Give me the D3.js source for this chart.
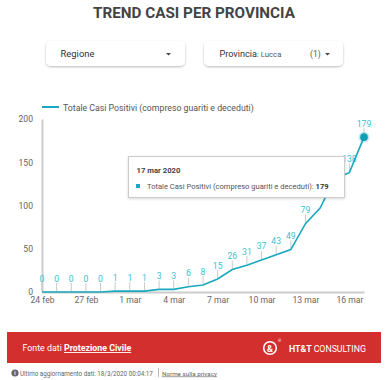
<!DOCTYPE html>
<html><head><meta charset="utf-8">
<script src="https://cdn.jsdelivr.net/npm/d3@7"></script>
<style>
html,body{margin:0;padding:0;background:#fff;font-family:Roboto,"Noto Sans",sans-serif;}
svg{display:block}
</style></head>
<body>
<svg id="c" width="387" height="380"></svg>
<script>
const title = "TREND CASI PER PROVINCIA";
const dates = ["2020-02-24","2020-02-25","2020-02-26","2020-02-27","2020-02-28","2020-02-29",
  "2020-03-01","2020-03-02","2020-03-03","2020-03-04","2020-03-05","2020-03-06","2020-03-07",
  "2020-03-08","2020-03-09","2020-03-10","2020-03-11","2020-03-12","2020-03-13","2020-03-14",
  "2020-03-15","2020-03-16","2020-03-17"];
const values = [0,0,0,0,0,1,1,1,3,3,6,8,15,26,31,37,43,49,79,97,131,138,179];
const seriesName = "Totale Casi Positivi (compreso guariti e deceduti)";
const xTickDates = ["2020-02-24","2020-02-27","2020-03-01","2020-03-04","2020-03-07","2020-03-10","2020-03-13","2020-03-16"];
const xTickLabels = ["24 feb","27 feb","1 mar","4 mar","7 mar","10 mar","13 mar","16 mar"];
const yTicks = [0,50,100,150,200];
const hiddenLabels = ["2020-03-14","2020-03-15"];
const tooltipDate = "17 mar 2020";

const parse = d3.timeParse("%Y-%m-%d");
const data = dates.map((d,i)=>({date:parse(d), key:d, value:values[i]}));
const svg = d3.select("#c");
const teal = "#18a9c0", labelTeal = "#3dbfd1";

// scale a text's font size so that it spans a target width
function fit(sel, target){
  const n = sel.node();
  const fs = parseFloat(sel.attr("font-size"));
  const w = n.getComputedTextLength();
  if (w > 0) {
    const k = target / w;
    sel.attr("font-size", fs * k);
    sel.selectAll("tspan").each(function(){
      const t = d3.select(this); const f2 = t.attr("font-size");
      if (f2) t.attr("font-size", parseFloat(f2) * k);
    });
  }
  return sel;
}

const defs = svg.append("defs");
const f = defs.append("filter").attr("id","sh").attr("x","-10%").attr("y","-30%").attr("width","120%").attr("height","170%");
f.append("feDropShadow").attr("dx",0).attr("dy",1).attr("stdDeviation",1.3).attr("flood-color","#000").attr("flood-opacity",0.28);

// Title
fit(svg.append("text").attr("x",194).attr("y",17.5).attr("text-anchor","middle")
  .attr("font-size",16).attr("font-weight",700).attr("fill","#444").text(title), 202);

// Dropdowns
function dropdown(x, w){
  const g = svg.append("g");
  g.append("rect").attr("x",x).attr("y",41).attr("width",w).attr("height",25).attr("rx",5)
    .attr("fill","#fff").attr("filter","url(#sh)");
  return g;
}
const d1 = dropdown(46,139);
fit(d1.append("text").attr("x",60.5).attr("y",56.5).attr("font-size",10).attr("fill","#333").text("Regione"), 34);
d1.append("path").attr("d","M166,53 l5,0 l-2.5,2.5z").attr("fill","#444");
const d2 = dropdown(204,139);
const t2 = d2.append("text").attr("x",219.5).attr("y",56.5).attr("font-size",10).attr("fill","#333");
t2.append("tspan").text("Provincia");
t2.append("tspan").attr("font-size",8.5).attr("fill","#555").text(": Lucca");
fit(t2, 62);
d2.append("text").attr("x",310).attr("y",56.5).attr("font-size",8.5).attr("fill","#555").text("(1)");
d2.append("path").attr("d","M325,53 l5,0 l-2.5,2.5z").attr("fill","#444");

// Scales
const x = d3.scaleTime().domain([data[0].date, data[data.length-1].date]).range([42,364]);
const y = d3.scaleLinear().domain([0,200]).range([292,119]);

// Legend
svg.append("line").attr("x1",42).attr("x2",59).attr("y1",107).attr("y2",107).attr("stroke",teal).attr("stroke-width",2);
fit(svg.append("text").attr("x",63).attr("y",110.5).attr("font-size",9.6).attr("fill","#555").text(seriesName), 191);

// Axes
const yAxis = svg.append("g").attr("transform","translate(42,0)")
  .call(d3.axisLeft(y).tickValues(yTicks).tickSize(0).tickPadding(9));
yAxis.select(".domain").attr("stroke","#ccc").attr("stroke-width",2);
yAxis.selectAll("text").attr("font-size",8.6).attr("fill","#666").attr("font-family","Roboto");

const xAxis = svg.append("g").attr("transform","translate(0,292)")
  .call(d3.axisBottom(x).tickValues(xTickDates.map(parse)).tickSize(0).tickPadding(5)
    .tickFormat((d,i)=>xTickLabels[i]));
xAxis.select(".domain").attr("stroke","#ccc").attr("stroke-width",2);
xAxis.selectAll("text").attr("font-size",8.6).attr("fill","#666").attr("font-family","Roboto");

// Point labels with connectors
const lab = svg.append("g");
data.filter(d=>!hiddenLabels.includes(d.key)).forEach(d=>{
  lab.append("line").attr("x1",x(d.date)).attr("x2",x(d.date)).attr("y1",y(d.value)-9).attr("y2",y(d.value)-1)
    .attr("stroke","#c8c8c8").attr("stroke-width",1);
  lab.append("text").attr("x",x(d.date)).attr("y",y(d.value)-10.5).attr("text-anchor","middle")
    .attr("font-size",8.6).attr("fill",labelTeal).text(d.value);
});

// Line
svg.append("path").datum(data).attr("fill","none").attr("stroke",teal).attr("stroke-width",1.6)
  .attr("d", d3.line().x(d=>x(d.date)).y(d=>y(d.value)));

// Highlight last point
const last = data[data.length-1];
svg.append("circle").attr("cx",x(last.date)).attr("cy",y(last.value)).attr("r",5.5).attr("fill",teal).attr("opacity",0.25);
svg.append("circle").attr("cx",x(last.date)).attr("cy",y(last.value)).attr("r",3.8).attr("fill","#0e9fb3");

// Tooltip
const tt = svg.append("g");
tt.append("rect").attr("x",128.5).attr("y",156.5).attr("width",216).attr("height",41)
  .attr("fill","#fff").attr("stroke","#ccc").attr("stroke-width",1)
  .style("filter","drop-shadow(0px 1px 1.5px rgba(0,0,0,0.15))");
fit(tt.append("text").attr("x",136.5).attr("y",172.5).attr("font-size",8.5).attr("font-weight",700).attr("fill","#444").text(tooltipDate), 44);
tt.append("rect").attr("x",136).attr("y",184).attr("width",4).attr("height",4).attr("fill",teal);
const tl = tt.append("text").attr("x",147).attr("y",189).attr("font-size",8.5).attr("fill","#555");
tl.append("tspan").text(seriesName + ": ");
tl.append("tspan").attr("font-weight",700).attr("fill","#333").text(last.value);
fit(tl, 182);

// Footer
svg.append("rect").attr("x",7).attr("y",332).attr("width",374).attr("height",31).attr("fill","#d32f2f");
const ft = svg.append("text").attr("x",22.5).attr("y",351).attr("font-size",10).attr("fill","#fff");
ft.append("tspan").text("Fonte dati ");
ft.append("tspan").attr("font-weight",700).attr("text-decoration","underline").text("Protezione Civile");
fit(ft, 109);
// logo
svg.append("circle").attr("cx",270).attr("cy",348).attr("r",6.3).attr("fill","none").attr("stroke","#fff").attr("stroke-width",1.6);
svg.append("text").attr("x",270).attr("y",351.5).attr("text-anchor","middle").attr("font-size",9).attr("font-weight",700).attr("fill","#fff").text("&");
svg.append("text").attr("x",278).attr("y",342).attr("font-size",4).attr("fill","#fff").text("®");
const lg = svg.append("text").attr("x",289).attr("y",351.5).attr("font-size",10).attr("fill","#fff");
lg.append("tspan").attr("font-weight",700).text("HT&T ");
lg.append("tspan").text("CONSULTING");
fit(lg, 77);

// bottom info
svg.append("circle").attr("cx",15).attr("cy",373).attr("r",3.6).attr("fill","#666");
svg.append("text").attr("x",15).attr("y",375).attr("text-anchor","middle").attr("font-size",5).attr("font-weight",700).attr("fill","#fff").text("i");
fit(svg.append("text").attr("x",20).attr("y",375.5).attr("font-size",7.5).attr("fill","#666").text("Ultimo aggiornamento dati: 18/3/2020 00:04:17"), 133);
svg.append("line").attr("x1",158.5).attr("x2",158.5).attr("y1",368).attr("y2",377).attr("stroke","#bbb");
fit(svg.append("text").attr("x",162).attr("y",375.5).attr("font-size",7.5).attr("fill","#666").attr("text-decoration","underline").text("Norme sulla privacy"), 55);
</script>
</body></html>
